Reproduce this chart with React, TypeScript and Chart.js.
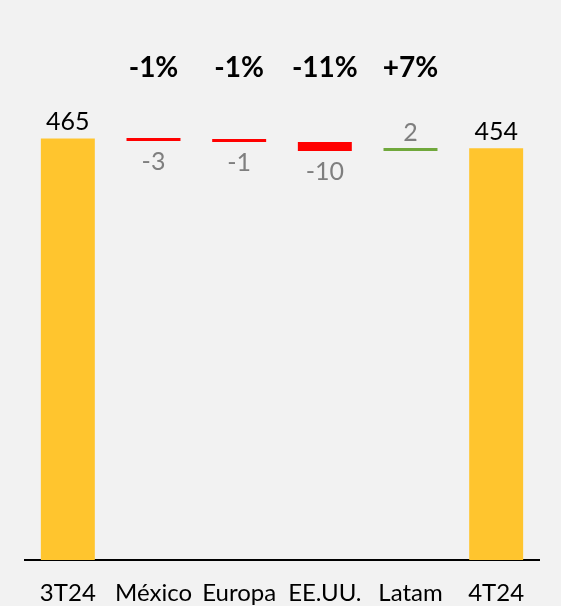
import React, { useEffect, useRef } from "react";
import { Chart, registerables } from "chart.js";

Chart.register(...registerables);

const categories = ["3T24", "México", "Europa", "EE.UU.", "Latam", "4T24"];
const startValue = 465;
const endValue = 454;
const deltas = [-3, -1, -10, 2];
const pctLabels = ["-1%", "-1%", "-11%", "+7%"];

const YELLOW = "#FFC52E";
const RED = "#FF0000";
const GREEN = "#70A83C";
const FONT = "Lato, 'Open Sans', sans-serif";

function buildBars() {
  const bars: [number, number][] = [[0, startValue]];
  let cur = startValue;
  for (const d of deltas) {
    const next = cur + d;
    bars.push([Math.min(cur, next), Math.max(cur, next)]);
    cur = next;
  }
  bars.push([0, endValue]);
  return bars;
}

function buildColors() {
  return [YELLOW, ...deltas.map((d) => (d < 0 ? RED : GREEN)), YELLOW];
}

function buildLabels() {
  return [String(startValue), ...deltas.map((d) => `${d}`), String(endValue)];
}

const labelPlugin = {
  id: "wfLabels",
  beforeDraw(chart: any) {
    const { ctx, width, height } = chart;
    ctx.save();
    ctx.fillStyle = "#F2F2F2";
    ctx.fillRect(0, 0, width, height);
    ctx.restore();
  },
  afterDatasetsDraw(chart: any) {
    const { ctx } = chart;
    const meta = chart.getDatasetMeta(0);
    const yScale = chart.scales.y;
    const labels = buildLabels();
    ctx.save();
    ctx.textAlign = "center";
    ctx.textBaseline = "alphabetic";
    meta.data.forEach((el: any, i: number) => {
      const p = el.getProps(["x", "y", "base"], true);
      const top = Math.min(p.y, p.base);
      const bottom = Math.max(p.y, p.base);
      const isTotal = i === 0 || i === meta.data.length - 1;
      ctx.font = `25px ${FONT}`;
      if (isTotal) {
        ctx.fillStyle = "#000000";
        ctx.fillText(labels[i], p.x, top - 8);
      } else {
        const d = deltas[i - 1];
        ctx.fillStyle = "#7F7F7F";
        if (d >= 0) {
          ctx.fillText(labels[i], p.x, top - 7);
        } else {
          ctx.fillText(labels[i], p.x, bottom + 29);
        }
        ctx.fillStyle = "#000000";
        ctx.font = `bold 28px ${FONT}`;
        ctx.fillText(pctLabels[i - 1], p.x, yScale.getPixelForValue(533));
      }
    });
    ctx.restore();
  },
};

export default function App() {
  const ref = useRef<HTMLCanvasElement | null>(null);
  useEffect(() => {
    document.body.style.background = "#F2F2F2";
    const chart = new Chart(ref.current!, {
      type: "bar",
      data: {
        labels: categories,
        datasets: [
          {
            data: buildBars() as any,
            backgroundColor: buildColors(),
            borderWidth: 0,
            barPercentage: 0.63,
            categoryPercentage: 1,
            minBarLength: 3,
          },
        ],
      },
      options: {
        responsive: false,
        animation: false,
        layout: { padding: { left: 25, right: 22, top: 16, bottom: -20 } },
        plugins: {
          legend: { display: false },
          tooltip: { enabled: false },
        },
        scales: {
          x: {
            grid: { display: false, drawTicks: false },
            border: { display: true, color: "#000000", width: 2 },
            ticks: {
              color: "#000000",
              font: { family: FONT, size: 24, lineHeight: 1 },
              padding: 21,
              maxRotation: 0,
              autoSkip: false,
            },
          },
          y: { display: false, min: 0, max: 600 },
        },
      },
      plugins: [labelPlugin],
    });
    return () => chart.destroy();
  }, []);
  return (
    <div style={{ position: "absolute", left: 0, top: 0, width: 561, height: 606, background: "#F2F2F2" }}>
      <canvas ref={ref} width={561} height={606} style={{ display: "block", width: 561, height: 606 }} />
    </div>
  );
}
